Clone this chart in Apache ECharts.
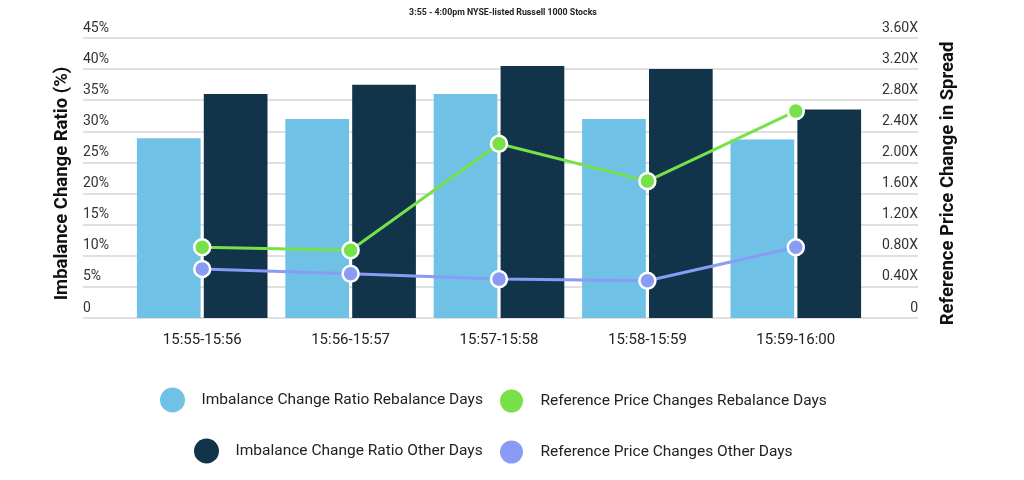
<!DOCTYPE html>
<html>
<head>
<meta charset="utf-8">
<script src="https://cdn.jsdelivr.net/npm/echarts@6/dist/echarts.min.js"></script>
<style>html,body{margin:0;padding:0;background:#fff}#c{width:1024px;height:480px}</style>
</head>
<body>
<div id="c"></div>
<script>
const categories = ['15:55-15:56','15:56-15:57','15:57-15:58','15:58-15:59','15:59-16:00'];
const ratioRebalance = [28.9, 32.0, 36.0, 32.0, 28.7];
const ratioOther = [36.0, 37.5, 40.5, 40.0, 33.5];
const priceRebalance = [0.91, 0.87, 2.24, 1.76, 2.66];
const priceOther = [0.63, 0.57, 0.50, 0.48, 0.91];
const names = ['Imbalance Change Ratio Rebalance Days','Imbalance Change Ratio Other Days','Reference Price Changes Rebalance Days','Reference Price Changes Other Days'];
const colors = ['#6fc2e5','#12344a','#77e14a','#8a9bf5'];
const FONT = 'Roboto';

const chart = echarts.init(document.getElementById('c'));
const labelStyle = {fontFamily: FONT, fontSize: 14, color: '#333'};
chart.setOption({
  animation: false,
  textStyle: {fontFamily: FONT},
  grid: [
    {left: 83, right: 106, top: 38, bottom: 162},
    {left: 128, right: 154, top: 38, bottom: 162}
  ],
  xAxis: [
    {gridIndex: 0, type: 'value', show: false, min: 0, max: 1},
    {gridIndex: 1, type: 'category', data: categories,
     axisLine: {show: false}, axisTick: {show: false},
     axisLabel: {fontFamily: FONT, fontSize: 15, color: '#222', margin: 15}}
  ],
  yAxis: [
    {gridIndex: 0, type: 'value', min: 0, max: 45, interval: 5,
     axisLine: {show: false}, axisTick: {show: false},
     splitLine: {lineStyle: {color: '#d6d6d6', width: 1.5}},
     axisLabel: Object.assign({inside: true, margin: 0, verticalAlign: 'bottom', padding: [0,0,3,0],
       formatter: v => v === 0 ? '0' : v + '%'}, labelStyle)},
    {gridIndex: 0, type: 'value', position: 'right', min: 0, max: 3.6, interval: 0.4,
     axisLine: {show: false}, axisTick: {show: false}, splitLine: {show: false},
     axisLabel: Object.assign({inside: true, margin: 0, verticalAlign: 'bottom', padding: [0,0,3,0],
       formatter: v => v === 0 ? '0' : v.toFixed(2) + 'X'}, labelStyle)},
    {gridIndex: 1, type: 'value', min: 0, max: 45, show: false},
    {gridIndex: 1, type: 'value', min: 0, max: 3.6, show: false}
  ],
  legend: [
    {data: [{name: names[0]}], left: 160, top: 387.5},
    {data: [{name: names[1]}], left: 194, top: 438.5},
    {data: [{name: names[2]}], left: 498, top: 387.5},
    {data: [{name: names[3]}], left: 498, top: 438.5}
  ].map(l => Object.assign({icon: 'circle', itemWidth: 48, itemHeight: 25, padding: 0,
      textStyle: {fontFamily: FONT, fontSize: 15.5, color: '#222'}}, l)),
  graphic: [
    {type: 'text', x: 503, y: 13, style: {text: '3:55 - 4:00pm NYSE-listed Russell 1000 Stocks', font: 'bold 8.8px ' + FONT, fill: '#222', textAlign: 'center', textVerticalAlign: 'middle'}},
    {type: 'text', x: 62, y: 183.5, rotation: Math.PI / 2, style: {text: 'Imbalance Change Ratio (%)', font: 'bold 18.5px ' + FONT, fill: '#111', textAlign: 'center', textVerticalAlign: 'middle'}},
    {type: 'text', x: 948, y: 183.5, rotation: Math.PI / 2, style: {text: 'Reference Price Change in Spread', font: 'bold 18.5px ' + FONT, fill: '#111', textAlign: 'center', textVerticalAlign: 'middle'}}
  ],
  series: [
    {name: names[0], type: 'bar', xAxisIndex: 1, yAxisIndex: 2, data: ratioRebalance,
     itemStyle: {color: colors[0]}, barCategoryGap: '12%', barGap: '5%'},
    {name: names[1], type: 'bar', xAxisIndex: 1, yAxisIndex: 2, data: ratioOther,
     itemStyle: {color: colors[1]}, barCategoryGap: '12%', barGap: '5%'},
    {name: names[2], type: 'line', xAxisIndex: 1, yAxisIndex: 3, data: priceRebalance,
     symbol: 'circle', symbolSize: 16, lineStyle: {color: colors[2], width: 3},
     itemStyle: {color: colors[2], borderColor: '#fff', borderWidth: 2.5}, z: 5},
    {name: names[3], type: 'line', xAxisIndex: 1, yAxisIndex: 3, data: priceOther,
     symbol: 'circle', symbolSize: 16, lineStyle: {color: colors[3], width: 3},
     itemStyle: {color: colors[3], borderColor: '#fff', borderWidth: 2.5}, z: 5}
  ]
});
</script>
</body>
</html>
